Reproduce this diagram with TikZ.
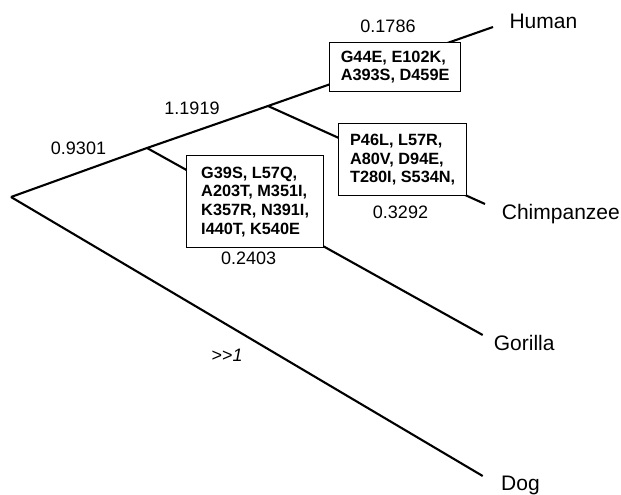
\documentclass[tikz,border=0pt]{standalone}
\usepackage{fontspec}
\setmainfont{Liberation Sans}
\begin{document}
\begin{tikzpicture}[x=1pt,y=-1pt,
  branch/.style={line width=2.1pt, line join=round},
  mutbox/.style={draw, line width=1.3pt, fill=white, align=left, inner sep=0pt,
    font=\fontsize{16.3}{18.7}\selectfont\bfseries, anchor=north west},
  num/.style={anchor=base, inner sep=0pt, font=\fontsize{18}{21}\selectfont},
  taxon/.style={anchor=base west, inner sep=0pt, font=\fontsize{21}{24}\selectfont}]
\useasboundingbox (0,0) rectangle (621,495);
% tree vertices
\coordinate (root) at (11,197);
\coordinate (n1) at (147,148);
\coordinate (n2) at (268,106);
\coordinate (hum) at (493,27);
\coordinate (chi) at (485,204);
\coordinate (gor) at (482.7,335);
\coordinate (dog) at (482.7,476);
% branches
\draw[branch] (root) -- (n1) -- (n2) -- (hum);
\draw[branch] (n2) -- (chi);
\draw[branch] (n1) -- (gor);
\draw[branch] (root) -- (dog);
% mutation boxes
\node[mutbox, minimum width=131pt, minimum height=49pt] (hbox) at (329,42) {G44E, E102K,\\A393S, D459E};
\node[mutbox, minimum width=128pt, minimum height=72pt] (cbox) at (338,123) {P46L, L57R,\\A80V, D94E,\\T280I, S534N,};
\node[mutbox, minimum width=137pt, minimum height=92pt] (gbox) at (186,155) {G39S, L57Q,\\A203T, M351I,\\K357R, N391I,\\I440T, K540E};
% branch lengths
\node[num] (l1) at (78.5,154) {0.9301};
\node[num] (l2) at (192,114.3) {1.1919};
\node[num] (l3) at (388,32.7) {0.1786};
\node[num] (l4) at (400.5,218.3) {0.3292};
\node[num] (l5) at (248.7,264.3) {0.2403};
\node[num, font=\fontsize{18}{21}\selectfont\itshape] (l6) at (227,361.7) {{>}{>}1};
% taxa
\node[taxon] (th) at (509.3,29) {Human};
\node[taxon] (tc) at (501.7,219.3) {Chimpanzee};
\node[taxon] (tg) at (493.7,350) {Gorilla};
\node[taxon] (td) at (501,490) {Dog};
\end{tikzpicture}
\end{document}
